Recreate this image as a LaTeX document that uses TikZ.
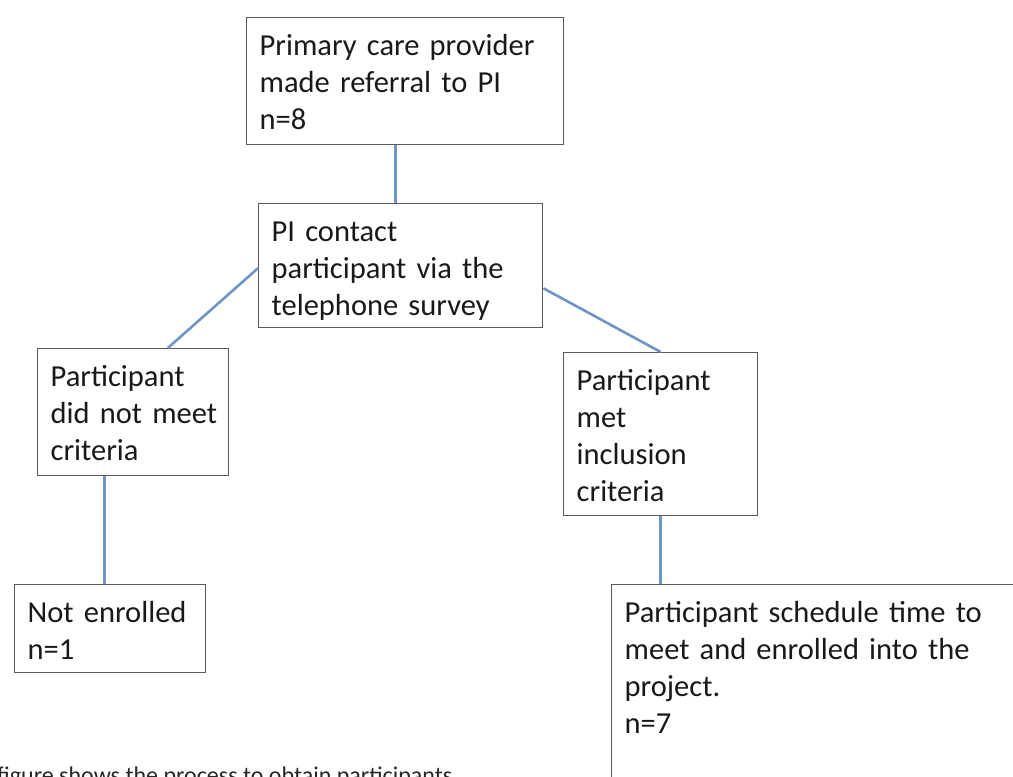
\documentclass[tikz,border=0pt]{standalone}
\usepackage{fontspec}
\setmainfont{Carlito}
\usetikzlibrary{positioning,calc}
\definecolor{linkblue}{HTML}{6F94C6}
\definecolor{boxgray}{HTML}{5A5A5A}

\begin{document}
\begin{tikzpicture}[x=1pt,y=-1pt,
  stage/.style={draw=boxgray, line width=1.4pt, anchor=north west, inner xsep=13pt, inner ysep=0pt,
    align=left, text=black!90, font=\fontsize{30.5}{37}\selectfont, text height=38pt},
  link/.style={draw=linkblue, line width=2.6pt}]

  \useasboundingbox (0,0) rectangle (1013,777);
  \clip (0,0) rectangle (1013,777);

  % boxes
  \node[stage, text width=291pt, text depth=89pt] (referral) at (246,17) {Primary care provider\\made referral to PI\\n=8};
  \node[stage, text width=258pt, text depth=86pt] (contact) at (258,203) {PI contact\\participant via the\\telephone survey};
  \node[stage, text width=165pt, text depth=89pt] (notmet) at (37,348) {Participant\\did~not~meet\\criteria};
  \node[stage, text width=168pt, text depth=125pt] (met) at (563,352) {Participant\\met\\inclusion\\criteria};
  \node[stage, text width=165pt, text depth=50pt] (notenrolled) at (14,584) {Not enrolled\\n=1};
  \node[stage, text width=404pt, text depth=212pt] (enrolled) at (611,584) {Participant schedule time to\\meet and enrolled into the\\project.\\n=7};

  % connectors
  \draw[link] ($(referral.south west)!.47!(referral.south east)$) coordinate (r1) -- (r1 |- contact.north);
  \draw[link] ($(contact.north west)!.52!(contact.south west)$) -- ($(notmet.north west)!.68!(notmet.north east)$);
  \draw[link] ($(contact.north east)!.68!(contact.south east)$) -- (met.north);
  \draw[link] ($(notmet.south west)!.35!(notmet.south east)$) coordinate (n1) -- (n1 |- notenrolled.north);
  \draw[link] (met.south) -- (met.south |- enrolled.north);

  \node[anchor=base west, inner sep=0pt, text=black!85, font=\fontsize{24}{29}\selectfont] (caption) at (-3,783) {figure shows the process to obtain participants};

\end{tikzpicture}
\end{document}
